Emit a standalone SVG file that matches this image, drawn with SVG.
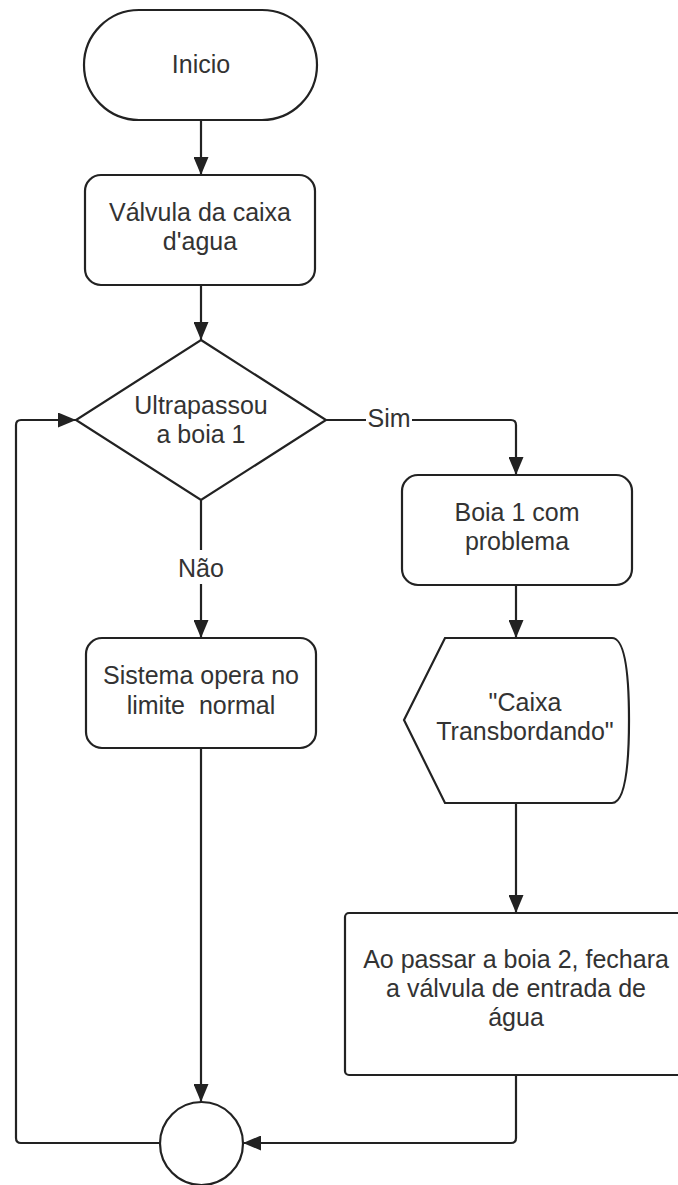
<svg xmlns="http://www.w3.org/2000/svg" width="678" height="1185" viewBox="0 0 678 1185">
<style>
.s{fill:#fff;stroke:#222;stroke-width:2.2}
.c{fill:none;stroke:#222;stroke-width:2.2}
text{font-family:"Liberation Sans",Arial,sans-serif;font-size:25px;fill:#333;text-anchor:middle;white-space:pre}
</style>
<defs>
<marker id="a" markerUnits="userSpaceOnUse" markerWidth="18" markerHeight="15" refX="18" refY="7.5" orient="auto">
<path d="M0,0 L18,7.5 L0,15 z" fill="#222"/>
</marker>
</defs>
<rect width="678" height="1185" fill="#fff"/>
<g id="connectors">
<path class="c" d="M201,120 V175" marker-end="url(#a)"/>
<path class="c" d="M201,285 V340" marker-end="url(#a)"/>
<path class="c" d="M326,420 H511 Q516,420 516,425 V475" marker-end="url(#a)"/>
<path class="c" d="M201,500 V638" marker-end="url(#a)"/>
<path class="c" d="M516,585 V638" marker-end="url(#a)"/>
<path class="c" d="M516,803 V913" marker-end="url(#a)"/>
<path class="c" d="M201,748 V1102" marker-end="url(#a)"/>
<path class="c" d="M516,1075 V1138 Q516,1143 511,1143 H243" marker-end="url(#a)"/>
<path class="c" d="M160,1143 H21 Q16,1143 16,1138 V425 Q16,420 21,420 H76" marker-end="url(#a)"/>
<g id="label-sim"><rect x="366" y="408" width="46" height="24" fill="#fff"/><text x="389" y="427">Sim</text></g>
<g id="label-nao"><rect x="176" y="550" width="50" height="34" fill="#fff"/><text x="201" y="577">Não</text></g>
</g>
<g id="inicio">
<rect class="s" x="84" y="10" width="233" height="110" rx="55"/>
<text x="201" y="73">Inicio</text>
</g>
<g id="valvula">
<rect class="s" x="85" y="175" width="230" height="110" rx="16"/>
<text x="200" y="221">Válvula da caixa</text>
<text x="200" y="250">d'agua</text>
</g>
<g id="decisao">
<path class="s" d="M201,340 L326,420 L201,500 L76,420 Z"/>
<text x="201" y="414">Ultrapassou</text>
<text x="201" y="443">a boia 1</text>
</g>
<g id="boia1">
<rect class="s" x="402" y="475" width="230" height="110" rx="16"/>
<text x="517" y="521">Boia 1 com</text>
<text x="517" y="550">problema</text>
</g>
<g id="sistema">
<rect class="s" x="86" y="638" width="230" height="110" rx="16"/>
<text x="201" y="684">Sistema opera no</text>
<text x="201" y="714">limite  normal</text>
</g>
<g id="display">
<path class="s" d="M445,638 H612 Q629,638 629,720 Q629,803 612,803 H445 L404,720 Z"/>
<text x="525" y="711">"Caixa</text>
<text x="525" y="740">Transbordando"</text>
</g>
<g id="fechar">
<rect class="s" x="345" y="913" width="342" height="162" rx="4"/>
<text x="516" y="968">Ao passar a boia 2, fechara</text>
<text x="516" y="997">a válvula de entrada de</text>
<text x="516" y="1026">água</text>
</g>
<g id="conector">
<circle class="s" cx="201.5" cy="1143.5" r="41.5"/>
</g>
</svg>
